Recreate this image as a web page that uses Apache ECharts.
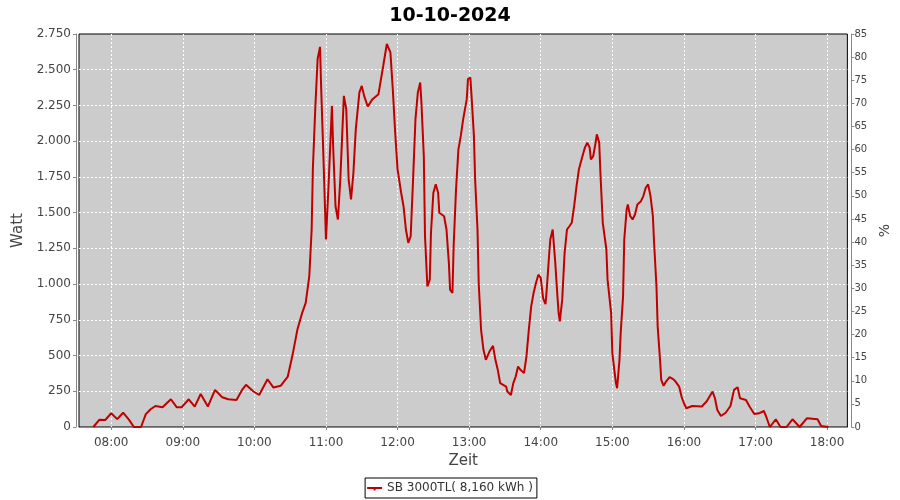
<!DOCTYPE html>
<html>
<head>
<meta charset="utf-8">
<script src="https://cdn.jsdelivr.net/npm/echarts@6/dist/echarts.min.js"></script>
<style>html,body{margin:0;padding:0;background:#fff}#c{width:900px;height:500px}</style>
</head>
<body>
<div id="c"></div>
<script>
const chartTitle = '10-10-2024';
const seriesName = 'SB 3000TL( 8,160 kWh )';
const axisStart = '07:33';
const axisEnd = '18:17';
const times = ['07:45','07:50','07:55','08:00','08:05','08:10','08:15','08:19','08:25','08:29','08:33','08:37','08:43','08:50','08:55','08:59','09:05','09:10','09:15','09:21','09:27','09:33','09:38','09:45','09:50','09:53','09:59','10:04','10:11','10:16','10:22','10:28','10:32','10:36','10:40','10:43','10:46','10:48','10:49','10:51','10:53','10:55','10:56','10:58','11:00','11:02','11:05','11:06','11:08','11:10','11:12','11:15','11:17','11:19','11:21','11:23','11:25','11:28','11:30','11:32','11:35','11:39','11:44','11:48','11:51','11:54','11:56','11:58','12:00','12:03','12:05','12:07','12:09','12:11','12:13','12:15','12:17','12:19','12:20','12:22','12:23','12:25','12:27','12:28','12:30','12:32','12:34','12:35','12:39','12:41','12:43','12:44','12:46','12:47','12:49','12:51','12:53','12:55','12:58','12:59','13:01','13:02','13:04','13:05','13:07','13:08','13:10','13:12','13:14','13:17','13:20','13:22','13:24','13:26','13:31','13:32','13:35','13:37','13:39','13:41','13:43','13:46','13:48','13:50','13:52','13:54','13:56','13:58','14:00','14:02','14:04','14:05','14:07','14:08','14:10','14:12','14:14','14:15','14:16','14:18','14:19','14:20','14:22','14:24','14:26','14:28','14:30','14:32','14:35','14:37','14:39','14:41','14:42','14:44','14:46','14:47','14:49','14:50','14:52','14:55','14:56','14:59','15:00','15:02','15:03','15:04','15:06','15:07','15:09','15:10','15:12','15:13','15:15','15:17','15:19','15:21','15:24','15:26','15:28','15:30','15:32','15:34','15:35','15:37','15:38','15:40','15:41','15:43','15:45','15:48','15:51','15:53','15:56','15:58','16:00','16:02','16:07','16:15','16:19','16:24','16:26','16:28','16:31','16:35','16:39','16:42','16:45','16:47','16:52','16:55','16:59','17:03','17:07','17:09','17:12','17:17','17:21','17:26','17:31','17:37','17:43','17:52','17:55','18:01'];
const watts = [0,50,49,96,55,100,50,0,0,90,124,147,138,194,138,138,194,143,231,143,260,208,194,189,264,295,250,224,334,276,288,353,505,680,797,868,1054,1382,1803,2224,2575,2660,2364,1852,1312,1663,2247,1966,1545,1452,1733,2317,2224,1733,1592,1780,2084,2341,2387,2317,2243,2294,2329,2528,2680,2621,2364,2060,1803,1639,1545,1382,1289,1335,1733,2154,2341,2411,2271,1896,1335,984,1031,1359,1639,1698,1639,1499,1475,1382,1148,961,938,1265,1663,1943,2037,2154,2294,2434,2446,2317,2037,1733,1382,1008,680,540,470,528,568,470,400,307,283,248,224,307,353,423,400,377,493,680,844,938,1008,1066,1043,900,860,960,1200,1312,1382,1171,914,797,739,891,1055,1218,1382,1405,1429,1545,1686,1803,1896,1955,1990,1955,1873,1896,1990,2048,1990,1780,1429,1242,1031,797,517,377,307,271,470,657,914,1312,1522,1557,1475,1452,1487,1557,1580,1616,1674,1698,1616,1475,1289,984,704,470,330,288,318,349,335,318,283,213,166,131,147,143,178,248,201,119,77,100,147,260,278,201,189,143,91,96,112,72,0,54,0,0,54,0,61,54,7,0];

function ts(hm){const p=hm.split(':');return new Date(2024,9,10,+p[0],+p[1]).getTime();}
const data = times.map((t,i)=>[ts(t), watts[i]]);
const FONT = 'DejaVu Sans';
const legendIcon = 'path://M0,0h0.01v0.01h-0.01Z M15,14h0.01v0.01h-0.01Z M0,6H15V8H0Z M6.5,8H8.5V9.5H6.5Z';
const chart = echarts.init(document.getElementById('c'));
chart.setOption({
  animation:false,
  backgroundColor:'#ffffff',
  title:{text:chartTitle,left:'center',top:2,textStyle:{fontFamily:FONT,fontWeight:'bold',fontSize:19,color:'#000'}},
  legend:{bottom:2,left:'center',itemWidth:15,itemHeight:14,itemGap:5,padding:[3,4,3,2],
    borderColor:'#000',borderWidth:1,borderRadius:0,backgroundColor:'#fff',
    data:[{name:seriesName,icon:legendIcon}],
    textStyle:{fontFamily:FONT,fontSize:12,color:'#333'}},
  grid:{left:79,right:52,top:34,bottom:73,show:true,backgroundColor:'#cccccc',borderColor:'#000',borderWidth:1},
  xAxis:{type:'time',min:ts(axisStart),max:ts(axisEnd),minInterval:3600000,maxInterval:3600000,offset:4,
    name:'Zeit',nameLocation:'middle',nameGap:19,nameTextStyle:{fontFamily:FONT,fontSize:15,color:'#444'},
    axisLine:{lineStyle:{color:'#888',width:1}},
    axisTick:{length:3,lineStyle:{color:'#888'}},
    axisLabel:{fontFamily:FONT,fontSize:12,color:'#444',margin:6,showMinLabel:false,showMaxLabel:false,
      formatter:v=>{const d=new Date(v);return String(d.getHours()).padStart(2,'0')+':'+String(d.getMinutes()).padStart(2,'0');}},
    splitLine:{show:true,showMinLine:false,showMaxLine:false,lineStyle:{color:'#fff',type:[2,2],width:1}}},
  yAxis:[{type:'value',min:0,max:2750,interval:250,offset:3,
    name:'Watt',nameLocation:'middle',nameGap:42,nameTextStyle:{fontFamily:FONT,fontSize:15,color:'#444'},
    axisLine:{show:true,lineStyle:{color:'#888'}},
    axisTick:{show:true,length:3,lineStyle:{color:'#888'}},
    axisLabel:{fontFamily:FONT,fontSize:12,color:'#444',margin:5,
      formatter:v=>String(v).replace(/\B(?=(\d{3})+(?!\d))/g,'.')},
    splitLine:{show:true,showMinLine:false,showMaxLine:false,lineStyle:{color:'#fff',type:[2,2],width:1}}},
    {type:'value',min:0,max:85,interval:5,offset:4,position:'right',
    name:'%',nameLocation:'middle',nameGap:21,nameTextStyle:{fontFamily:FONT,fontSize:14,color:'#444'},
    axisLine:{show:true,lineStyle:{color:'#888'}},
    axisTick:{show:true,length:3,lineStyle:{color:'#888'}},
    axisLabel:{fontFamily:FONT,fontSize:10,color:'#444',margin:3},
    splitLine:{show:false}}],
  series:[{name:seriesName,type:'line',data:data,yAxisIndex:0,symbol:'none',showSymbol:false,
    lineStyle:{color:'#c00000',width:2},itemStyle:{color:'#c00000'}}]
});
</script>
</body>
</html>
